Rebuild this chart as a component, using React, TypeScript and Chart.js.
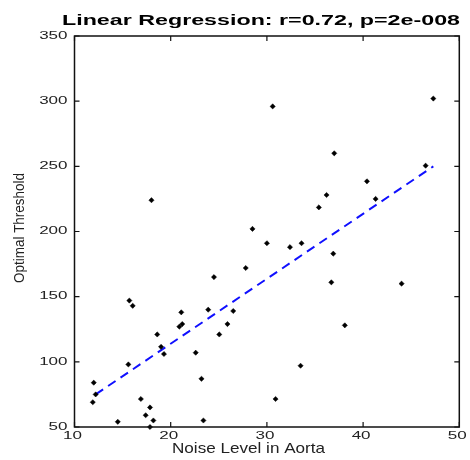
import React, { useEffect, useRef } from "react";
import { Chart, registerables } from "chart.js";

Chart.register(...registerables);

const noiseLevel = [18.0, 28.5, 30.6, 47.3, 37.0, 46.5, 40.4, 41.3, 36.2, 35.4, 30.0, 27.8, 24.5, 15.7, 16.05, 21.1, 23.9, 26.5, 21.2, 20.9, 25.9, 18.6, 25.05, 19.0, 19.3, 22.6, 15.6, 12.0, 23.2, 11.9, 16.9, 17.85, 17.4, 18.2, 14.5, 17.85, 23.4, 32.4, 33.6, 36.9, 36.7, 44.0, 38.1, 33.5, 30.9, 12.2];
const optimalThreshold = [224, 202, 296, 302, 260, 250.5, 238.5, 225, 228, 218.5, 191, 172, 165, 147, 143, 138, 140, 139, 129, 127, 129, 121, 121, 111.5, 106, 107, 98, 84, 87, 69, 71.5, 65, 59, 55, 54, 50, 55, 188, 191, 183, 161, 160, 128, 97, 71.5, 75];
const fitX = [12.2, 47.3];
const fitY = [75, 250];
const xTicks = [10, 20, 30, 40, 50];
const yTicks = [50, 100, 150, 200, 250, 300, 350];
const titleText = "Linear Regression: r=0.72, p=2e-008";
const xLabel = "Noise Level in Aorta";
const yLabel = "Optimal Threshold";

const FONT = "'Liberation Sans', Arial, sans-serif";
const TICK_FONT = `10px ${FONT}`;
const TICK_STRETCH = 1.7;

function drawFitted(ctx: CanvasRenderingContext2D, text: string, font: string, targetW: number) {
  ctx.font = font;
  const w = ctx.measureText(text).width;
  ctx.scale(targetW / w, 1);
  ctx.fillText(text, 0, 0);
}

function drawStretched(ctx: CanvasRenderingContext2D, text: string, cx: number, cy: number, align: "center" | "right") {
  ctx.save();
  ctx.font = TICK_FONT;
  const w = ctx.measureText(text).width * TICK_STRETCH;
  const left = align === "center" ? cx - w / 2 : cx - w;
  ctx.translate(left, cy);
  ctx.scale(TICK_STRETCH, 1);
  ctx.textAlign = "left";
  ctx.textBaseline = "middle";
  ctx.fillText(text, 0, 0);
  ctx.restore();
}

const framePlugin = {
  id: "frame",
  afterDatasetsDraw(chart: any) {
    const { ctx, chartArea: a, scales } = chart;
    const xs = scales.x, ys = scales.y;
    ctx.save();
    ctx.strokeStyle = "#111";
    ctx.lineWidth = 1.5;
    ctx.strokeRect(a.left, a.top, a.right - a.left, a.bottom - a.top);
    ctx.lineWidth = 1.2;
    const L = 5;
    ctx.beginPath();
    for (const v of xTicks) {
      const px = xs.getPixelForValue(v);
      ctx.moveTo(px, a.bottom); ctx.lineTo(px, a.bottom - L);
      ctx.moveTo(px, a.top); ctx.lineTo(px, a.top + L);
    }
    for (const v of yTicks) {
      const py = ys.getPixelForValue(v);
      ctx.moveTo(a.left, py); ctx.lineTo(a.left + L, py);
      ctx.moveTo(a.right, py); ctx.lineTo(a.right - L, py);
    }
    ctx.stroke();
    ctx.restore();
  },
  afterDraw(chart: any) {
    const { ctx, chartArea: a, scales } = chart;
    ctx.save();
    // tick labels
    ctx.fillStyle = "#222";
    for (const v of xTicks) {
      drawStretched(ctx, String(v), scales.x.getPixelForValue(v) - 2, a.bottom + 9.5, "center");
    }
    for (const v of yTicks) {
      drawStretched(ctx, String(v), a.left - 7, scales.y.getPixelForValue(v), "right");
    }
    ctx.fillStyle = "#000";
    ctx.textAlign = "left";
    ctx.textBaseline = "alphabetic";
    // title
    ctx.save();
    ctx.translate(62, 25);
    drawFitted(ctx, titleText, `bold 15px ${FONT}`, 398);
    ctx.restore();
    // x label
    ctx.save();
    ctx.fillStyle = "#222";
    ctx.translate(172, 453);
    drawFitted(ctx, xLabel, `15px ${FONT}`, 153);
    ctx.restore();
    // y label
    ctx.save();
    ctx.fillStyle = "#222";
    ctx.translate(24, 283);
    ctx.rotate(-Math.PI / 2);
    drawFitted(ctx, yLabel, `14px ${FONT}`, 110);
    ctx.restore();
    ctx.restore();
  },
};

export default function App() {
  const ref = useRef<HTMLCanvasElement | null>(null);
  useEffect(() => {
    if (!ref.current) return;
    const chart = new Chart(ref.current, {
      type: "scatter",
      data: {
        datasets: [
          {
            type: "line",
            data: fitX.map((x, i) => ({ x, y: fitY[i] })),
            borderColor: "#1010ff",
            borderWidth: 2,
            borderDash: [9, 6],
            pointRadius: 0,
            fill: false,
            order: 2,
          } as any,
          {
            type: "scatter",
            data: noiseLevel.map((x, i) => ({ x, y: optimalThreshold[i] })),
            pointStyle: "rectRot",
            pointRadius: 2.6,
            backgroundColor: "#000",
            borderColor: "#000",
            borderWidth: 0.5,
            clip: false,
            order: 1,
          } as any,
        ],
      },
      options: {
        animation: false,
        responsive: false,
        devicePixelRatio: 1,
        layout: { padding: { left: 0, top: 36, right: 10.7, bottom: 0 } },
        plugins: { legend: { display: false }, tooltip: { enabled: false }, title: { display: false } },
        scales: {
          x: {
            type: "linear",
            min: 10,
            max: 50,
            afterFit: (s: any) => { s.height = 33; },
            afterBuildTicks: (s: any) => { s.ticks = xTicks.map((v) => ({ value: v })); },
            grid: { display: false, drawTicks: false },
            border: { display: false },
            ticks: { display: false },
          },
          y: {
            type: "linear",
            min: 50,
            max: 350,
            afterFit: (s: any) => { s.width = 74.5; },
            afterBuildTicks: (s: any) => { s.ticks = yTicks.map((v) => ({ value: v })); },
            grid: { display: false, drawTicks: false },
            border: { display: false },
            ticks: { display: false },
          },
        },
      },
      plugins: [framePlugin],
    });
    return () => chart.destroy();
  }, []);
  return (
    <div style={{ position: "fixed", left: 0, top: 0, width: 470, height: 460, background: "#fff" }}>
      <canvas ref={ref} width={470} height={460} style={{ width: 470, height: 460 }} />
    </div>
  );
}
